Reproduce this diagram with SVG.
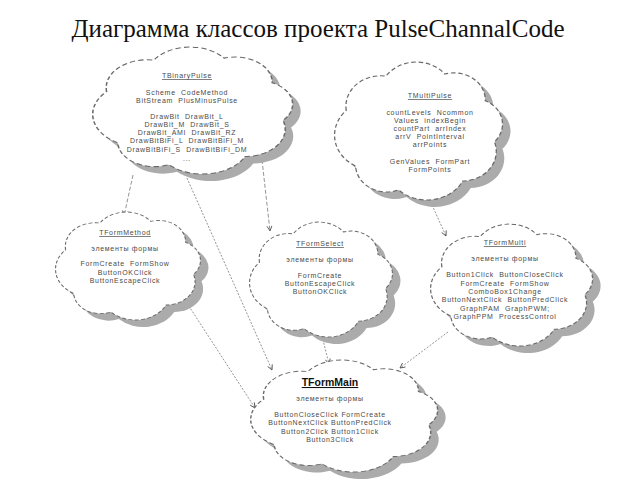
<svg xmlns="http://www.w3.org/2000/svg" xmlns:xlink="http://www.w3.org/1999/xlink" width="640" height="480" viewBox="0 0 640 480">
<style>
.cloud{fill:#ffffff;stroke:#6a6a6a;stroke-width:0.7;stroke-dasharray:2.5 1.5;vector-effect:non-scaling-stroke}
.shadow{fill:#ababab;stroke:none}
.t{font-family:"Liberation Sans",Arial,sans-serif;font-size:7px;letter-spacing:0.7px;fill:#4a4a4a;text-anchor:middle;white-space:pre}
.h{text-decoration:underline}
.hm{font-size:10.5px;letter-spacing:0;font-weight:bold;fill:#111;text-decoration:underline}
.title{font-family:"Liberation Serif","Times New Roman",serif;font-size:25px;fill:#111;text-anchor:middle}
.c{fill:none;stroke:#666;stroke-width:0.7;stroke-dasharray:4 2}
.cf{fill:none;stroke:#666;stroke-width:0.7;stroke-dasharray:2 1.5}
</style>
<defs>
<path id="cloud" d="M10.5,37 A19,19 0 0 1 32.2,15.6 A20,20 0 0 1 64.4,14.3 A17,17 0 0 1 86.4,31 A16,16 0 0 1 91.4,56.6 A18.5,18.5 0 0 1 74.1,81.1 A22,22 0 0 1 39.1,86.7 A17,17 0 0 1 15.6,71.8 A22,22 0 0 1 10.5,37 Z"/>
<marker id="arr" viewBox="0 0 6 6" refX="5.5" refY="3" markerWidth="6" markerHeight="6" orient="auto" markerUnits="userSpaceOnUse">
<path d="M0.5,0.5 L5.5,3 L0.5,5.5" fill="none" stroke="#444" stroke-width="0.8"/>
</marker>
</defs>
<rect width="640" height="480" fill="#ffffff"/>
<text class="title" x="318" y="37">Диаграмма классов проекта PulseChannalCode</text>

<g id="connectors">
<line class="c" x1="133" y1="175" x2="124" y2="216" marker-end="url(#arr)"/>
<line class="cf" x1="187" y1="178" x2="272" y2="370" marker-end="url(#arr)"/>
<line class="c" x1="262" y1="160" x2="270" y2="231" marker-end="url(#arr)"/>
<line class="cf" x1="432" y1="205" x2="446" y2="236" marker-end="url(#arr)"/>
<line class="cf" x1="183" y1="297" x2="255" y2="408" marker-end="url(#arr)"/>
<line class="cf" x1="322" y1="336" x2="329" y2="364" marker-end="url(#arr)"/>
<line class="cf" x1="448" y1="332" x2="400" y2="368" marker-end="url(#arr)"/>
</g>

<g id="TBinaryPulse">
<use href="#cloud" class="shadow" transform="translate(91.7,44.1) scale(2.181,1.472)"/>
<use href="#cloud" class="cloud" transform="translate(83.7,37.1) scale(2.181,1.472)"/>
<text class="t h" x="187" y="78">TBinaryPulse</text>
<text class="t" x="187" y="95">Scheme  CodeMethod</text>
<text class="t" x="187" y="103">BitStream  PlusMinusPulse</text>
<text class="t" x="187" y="119">DrawBit  DrawBit_L</text>
<text class="t" x="187" y="127">DrawBit_M  DrawBit_S</text>
<text class="t" x="187" y="135">DrawBit_AMI  DrawBit_RZ</text>
<text class="t" x="187" y="143">DrawBitBiFi_L  DrawBitBiFi_M</text>
<text class="t" x="187" y="152">DrawBitBiFi_S  DrawBitBiFi_DM</text>
<text class="t" x="187" y="161">...</text>
</g>

<g id="TMultiPulse">
<use href="#cloud" class="shadow" transform="translate(335,58.2) scale(1.832,1.6)"/>
<use href="#cloud" class="cloud" transform="translate(327,51.2) scale(1.832,1.6)"/>
<text class="t h" x="430" y="98">TMultiPulse</text>
<text class="t" x="430" y="115">countLevels  Ncommon</text>
<text class="t" x="430" y="123">Values  indexBegin</text>
<text class="t" x="430" y="131">countPart  arrIndex</text>
<text class="t" x="430" y="139">arrV  PointInterval</text>
<text class="t" x="430" y="147">arrPoints</text>
<text class="t" x="430" y="164">GenValues  FormPart</text>
<text class="t" x="430" y="172">FormPoints</text>
</g>

<g id="TFormMethod">
<use href="#cloud" class="shadow" transform="translate(57,210.5) scale(1.581,1.252)"/>
<use href="#cloud" class="cloud" transform="translate(49,203.5) scale(1.581,1.252)"/>
<text class="t h" x="125" y="235">TFormMethod</text>
<text class="t" x="125" y="251">элементы формы</text>
<text class="t" x="125" y="266">FormCreate  FormShow</text>
<text class="t" x="125" y="275">ButtonOKClick</text>
<text class="t" x="125" y="283">ButtonEscapeClick</text>
</g>

<g id="TFormSelect">
<use href="#cloud" class="shadow" transform="translate(251.1,220) scale(1.559,1.333)"/>
<use href="#cloud" class="cloud" transform="translate(243.1,213) scale(1.559,1.333)"/>
<text class="t h" x="320" y="246">TFormSelect</text>
<text class="t" x="320" y="262">элементы формы</text>
<text class="t" x="320" y="278">FormCreate</text>
<text class="t" x="320" y="286">ButtonEscapeClick</text>
<text class="t" x="320" y="294">ButtonOKClick</text>
</g>

<g id="TFormMulti">
<use href="#cloud" class="shadow" transform="translate(431.3,221.5) scale(1.767,1.414)"/>
<use href="#cloud" class="cloud" transform="translate(423.3,214.5) scale(1.767,1.414)"/>
<text class="t h" x="505" y="245">TFormMulti</text>
<text class="t" x="505" y="261">элементы формы</text>
<text class="t" x="505" y="277">Button1Click  ButtonCloseClick</text>
<text class="t" x="505" y="286">FormCreate  FormShow</text>
<text class="t" x="505" y="294">ComboBox1Change</text>
<text class="t" x="505" y="302">ButtonNextClick  ButtonPredClick</text>
<text class="t" x="505" y="311">GraphPAM  GraphPWM;</text>
<text class="t" x="505" y="319">GraphPPM  ProcessControl</text>
</g>

<g id="TFormMain">
<use href="#cloud" class="shadow" transform="translate(250.3,358.2) scale(2.039,1.299)"/>
<use href="#cloud" class="cloud" transform="translate(242.3,351.2) scale(2.039,1.299)"/>
<text class="t hm" x="330" y="386">TFormMain</text>
<text class="t" x="330" y="401">элементы формы</text>
<text class="t" x="330" y="417">ButtonCloseClick FormCreate</text>
<text class="t" x="330" y="425">ButtonNextClick ButtonPredClick</text>
<text class="t" x="330" y="434">Button2Click Button1Click</text>
<text class="t" x="330" y="442">Button3Click</text>
</g>
</svg>
